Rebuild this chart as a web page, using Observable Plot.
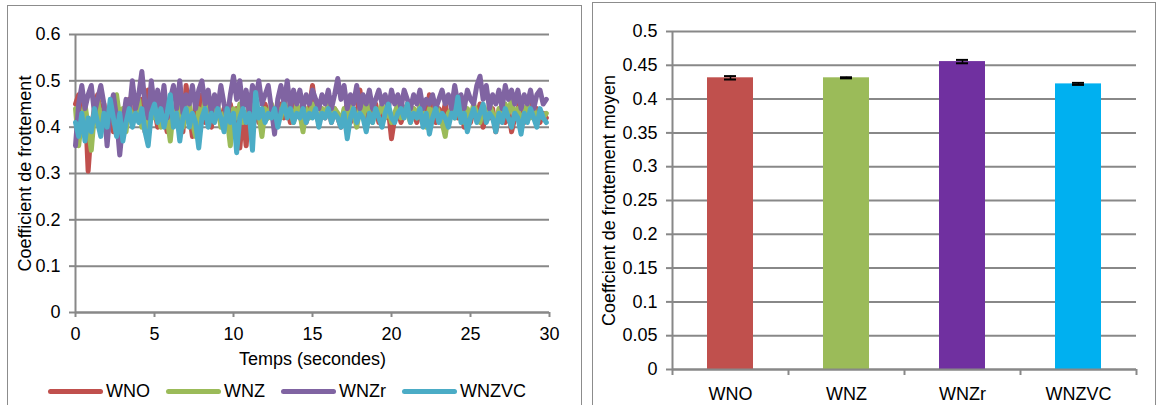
<!DOCTYPE html>
<html>
<head>
<meta charset="utf-8">
<script src="https://cdn.jsdelivr.net/npm/d3@7"></script>
<script src="https://cdn.jsdelivr.net/npm/@observablehq/plot@0.6"></script>
<style>
  html, body { margin: 0; padding: 0; background: #fff; width: 1158px; height: 405px; overflow: hidden; }
  body { position: relative; font-family: "Liberation Sans", Arial, sans-serif; }
  .frame { position: absolute; border: 1px solid #8c8c8c; box-sizing: border-box; }
  #left { position: absolute; left: 0; top: 0; }
  #right { position: absolute; left: 590px; top: 0; }
  #legend { position: absolute; left: 48px; top: 381px; display: flex; font-size: 18px; color: #000; }
  .item { display: flex; align-items: center; margin-right: 16px; }
  .sw { width: 55px; height: 5px; border-radius: 3px; margin-right: 3px; }
</style>
</head>
<body>
<div class="frame" style="left:7px;top:5px;width:575px;height:420px;"></div>
<div class="frame" style="left:592px;top:2px;width:564px;height:420px;"></div>
<div id="left"></div>
<div id="right"></div>
<div id="legend"></div>
<script>
// ---- Left chart: friction coefficient vs time ----
const seriesNames = ["WNO", "WNZ", "WNZr", "WNZVC"];
const lineColors = ["#C0504D", "#9BBB59", "#8064A2", "#4BACC6"];
const timeStep = 0.2; // seconds between samples
const xTicks = [0, 5, 10, 15, 20, 25, 30];
const yTicksLeft = [0, 0.1, 0.2, 0.3, 0.4, 0.5, 0.6];

const wno = [
  0.45, 0.47, 0.43, 0.46, 0.305, 0.40, 0.44, 0.47, 0.42, 0.45,
  0.40, 0.43, 0.39, 0.44, 0.41, 0.38, 0.43, 0.46, 0.41, 0.44,
  0.42, 0.46, 0.39, 0.48, 0.42, 0.44, 0.40, 0.45, 0.43, 0.39,
  0.44, 0.41, 0.46, 0.42, 0.39, 0.49, 0.43, 0.38, 0.45, 0.42,
  0.47, 0.41, 0.44, 0.40, 0.46, 0.43, 0.41, 0.44, 0.42, 0.45,
  0.41, 0.44, 0.355, 0.43, 0.36, 0.45, 0.42, 0.44, 0.41, 0.43,
  0.45, 0.42, 0.44, 0.41, 0.43, 0.45, 0.42, 0.44, 0.41, 0.45,
  0.43, 0.42, 0.45, 0.41, 0.44, 0.49, 0.43, 0.41, 0.44, 0.42,
  0.45, 0.41, 0.44, 0.42, 0.40, 0.43, 0.45, 0.41, 0.44, 0.42,
  0.48, 0.43, 0.41, 0.44, 0.42, 0.45, 0.41, 0.43, 0.42, 0.44,
  0.375, 0.42, 0.44, 0.41, 0.43, 0.45, 0.42, 0.44, 0.41, 0.43,
  0.45, 0.42, 0.47, 0.43, 0.41, 0.44, 0.42, 0.45, 0.41, 0.43,
  0.48, 0.42, 0.44, 0.40, 0.43, 0.41, 0.44, 0.42, 0.45, 0.40,
  0.43, 0.42, 0.44, 0.39, 0.43, 0.45, 0.41, 0.44, 0.39, 0.42,
  0.44, 0.46, 0.41, 0.43, 0.45, 0.42, 0.44, 0.41, 0.43, 0.42
];
const wnz = [
  0.44, 0.36, 0.42, 0.45, 0.40, 0.35, 0.43, 0.46, 0.41, 0.44,
  0.38, 0.43, 0.45, 0.47, 0.42, 0.44, 0.39, 0.45, 0.41, 0.43,
  0.46, 0.40, 0.43, 0.38, 0.45, 0.42, 0.44, 0.40, 0.46, 0.42,
  0.37, 0.44, 0.42, 0.46, 0.40, 0.43, 0.45, 0.41, 0.38, 0.44,
  0.42, 0.46, 0.41, 0.44, 0.42, 0.45, 0.40, 0.43, 0.42, 0.36,
  0.44, 0.42, 0.45, 0.41, 0.43, 0.44, 0.42, 0.46, 0.43, 0.38,
  0.44, 0.42, 0.45, 0.43, 0.44, 0.42, 0.46, 0.43, 0.44, 0.41,
  0.45, 0.43, 0.39, 0.44, 0.42, 0.45, 0.43, 0.41, 0.44, 0.43,
  0.45, 0.42, 0.44, 0.43, 0.41, 0.44, 0.42, 0.45, 0.43, 0.40,
  0.44, 0.42, 0.46, 0.43, 0.41, 0.44, 0.43, 0.45, 0.42, 0.44,
  0.41, 0.43, 0.45, 0.42, 0.44, 0.43, 0.41, 0.44, 0.42, 0.45,
  0.43, 0.40, 0.44, 0.42, 0.45, 0.43, 0.41, 0.38, 0.43, 0.44,
  0.42, 0.45, 0.43, 0.41, 0.44, 0.42, 0.45, 0.43, 0.41, 0.44,
  0.42, 0.45, 0.43, 0.41, 0.44, 0.42, 0.45, 0.43, 0.46, 0.42,
  0.44, 0.41, 0.43, 0.45, 0.42, 0.44, 0.41, 0.43, 0.42, 0.43
];
const wnzr = [
  0.36, 0.45, 0.49, 0.44, 0.47, 0.49, 0.43, 0.46, 0.49, 0.45,
  0.36, 0.44, 0.47, 0.42, 0.34, 0.41, 0.46, 0.43, 0.50, 0.44,
  0.47, 0.52, 0.45, 0.42, 0.50, 0.44, 0.48, 0.43, 0.49, 0.42,
  0.46, 0.49, 0.44, 0.50, 0.43, 0.47, 0.45, 0.49, 0.44, 0.48,
  0.50, 0.45, 0.48, 0.43, 0.47, 0.44, 0.49, 0.45, 0.42, 0.47,
  0.51, 0.46, 0.50, 0.44, 0.48, 0.43, 0.49, 0.46, 0.50, 0.45,
  0.47, 0.49, 0.44, 0.385, 0.46, 0.49, 0.45, 0.50, 0.44, 0.48,
  0.45, 0.48, 0.44, 0.47, 0.45, 0.48, 0.46, 0.44, 0.47, 0.45,
  0.48, 0.44, 0.47, 0.505, 0.46, 0.49, 0.44, 0.47, 0.45, 0.49,
  0.44, 0.47, 0.45, 0.48, 0.44, 0.46, 0.48, 0.45, 0.47, 0.44,
  0.48, 0.45, 0.47, 0.44, 0.48, 0.46, 0.44, 0.47, 0.45, 0.48,
  0.44, 0.46, 0.45, 0.47, 0.44, 0.46, 0.48, 0.45, 0.47, 0.44,
  0.49, 0.45, 0.47, 0.44, 0.48, 0.46, 0.45, 0.49, 0.51, 0.46,
  0.49, 0.44, 0.47, 0.45, 0.48, 0.44, 0.49, 0.46, 0.48, 0.45,
  0.48, 0.44, 0.47, 0.45, 0.48, 0.44, 0.47, 0.48, 0.45, 0.46
];
const wnzvc = [
  0.41, 0.38, 0.43, 0.37, 0.42, 0.39, 0.44, 0.41, 0.38, 0.43,
  0.40, 0.46, 0.42, 0.38, 0.43, 0.37, 0.41, 0.44, 0.40, 0.43,
  0.41, 0.44, 0.39, 0.36, 0.43, 0.45, 0.41, 0.44, 0.40, 0.43,
  0.47, 0.40, 0.43, 0.37, 0.42, 0.44, 0.40, 0.43, 0.41, 0.355,
  0.42, 0.44, 0.40, 0.43, 0.41, 0.44, 0.42, 0.39, 0.44, 0.41,
  0.43, 0.345, 0.42, 0.44, 0.41, 0.43, 0.35, 0.475, 0.42, 0.44,
  0.41, 0.43, 0.42, 0.44, 0.40, 0.43, 0.45, 0.42, 0.44, 0.41,
  0.43, 0.42, 0.44, 0.41, 0.43, 0.42, 0.44, 0.40, 0.43, 0.42,
  0.44, 0.41, 0.43, 0.42, 0.40, 0.43, 0.375, 0.42, 0.44, 0.41,
  0.43, 0.42, 0.39, 0.43, 0.41, 0.44, 0.42, 0.40, 0.43, 0.45,
  0.42, 0.41, 0.43, 0.44, 0.42, 0.45, 0.41, 0.43, 0.42, 0.44,
  0.40, 0.43, 0.385, 0.42, 0.44, 0.41, 0.43, 0.42, 0.40, 0.43,
  0.42, 0.465, 0.41, 0.43, 0.39, 0.42, 0.44, 0.41, 0.43, 0.45,
  0.41, 0.43, 0.42, 0.39, 0.43, 0.41, 0.44, 0.42, 0.40, 0.43,
  0.42, 0.385, 0.43, 0.41, 0.44, 0.42, 0.40, 0.44, 0.42, 0.41
];

// ---- Right chart: mean friction coefficient ----
const barNames = ["WNO", "WNZ", "WNZr", "WNZVC"];
const barMeans = [0.4315, 0.4315, 0.4555, 0.4225];
const barErrors = [0.0025, 0.0008, 0.0025, 0.0015];
const barColors = ["#C0504D", "#9BBB59", "#7030A0", "#00B0F0"];
const yTicksRight = [0, 0.05, 0.1, 0.15, 0.2, 0.25, 0.3, 0.35, 0.4, 0.45, 0.5];

const fmt = d => String(+d.toFixed(2));
const grid = "#888888";
const font = "'Liberation Sans', Arial, sans-serif";

const lineRows = [];
[wno, wnz, wnzr, wnzvc].forEach((vals, s) => {
  vals.forEach((v, i) => lineRows.push({series: seriesNames[s], t: i * timeStep, v}));
});

const left = Plot.plot({
  width: 590, height: 372,
  marginLeft: 75, marginRight: 41, marginTop: 34, marginBottom: 60,
  style: {fontFamily: font, fontSize: "18px", color: "#000", background: "transparent"},
  x: {domain: [0, 30]},
  y: {domain: [0, 0.6]},
  color: {domain: seriesNames, range: lineColors},
  marks: [
    Plot.gridY(yTicksLeft, {stroke: grid, strokeOpacity: 1, strokeWidth: 2}),
    Plot.ruleX([0], {stroke: grid, strokeWidth: 2}),
    Plot.ruleY([0], {stroke: grid, strokeWidth: 2}),
    Plot.axisY(yTicksLeft, {tickFormat: fmt, tickSize: 6, tickPadding: 9, stroke: grid, strokeWidth: 2, fontSize: 18,
      label: "Coefficient de frottement", labelAnchor: "center", labelArrow: "none", labelOffset: 57}),
    Plot.axisX(xTicks, {tickFormat: fmt, tickSize: 5, tickPadding: 10, stroke: grid, strokeWidth: 2, fontSize: 18,
      label: "Temps (secondes)", labelAnchor: "center", labelArrow: "none", labelOffset: 52}),
    Plot.line(lineRows, {x: "t", y: "v", z: "series", stroke: "series", strokeWidth: 5,
      strokeLinejoin: "round", strokeLinecap: "round", curve: "linear"})
  ]
});
document.getElementById("left").appendChild(left);

const barRows = barNames.map((name, i) => ({name, value: barMeans[i], err: barErrors[i]}));

const right = Plot.plot({
  width: 568, height: 405,
  marginLeft: 82, marginRight: 22, marginTop: 31, marginBottom: 36,
  style: {fontFamily: font, fontSize: "18px", color: "#000", background: "transparent"},
  x: {domain: barNames, paddingInner: 0.6, paddingOuter: 0.3},
  y: {domain: [0, 0.5]},
  color: {domain: barNames, range: barColors},
  marks: [
    Plot.gridY(yTicksRight, {stroke: grid, strokeOpacity: 1, strokeWidth: 2}),
    Plot.barY(barRows, {x: "name", y: "value", fill: "name"}),
    Plot.ruleY([0], {stroke: grid, strokeWidth: 2}),
    Plot.ruleX([barNames[0]], {x: d => d, dx: -58, stroke: grid, strokeWidth: 2}),
    Plot.ruleX(barNames, {x: d => d, dx: -58, y1: 0, y2: 0, insetTop: 6, stroke: grid, strokeWidth: 2}),
    Plot.ruleX([barNames[barNames.length - 1]], {x: d => d, dx: 58, y1: 0, y2: 0, insetTop: 6, stroke: grid, strokeWidth: 2}),
    Plot.axisY(yTicksRight, {tickFormat: fmt, tickSize: 6, tickPadding: 9, stroke: grid, strokeWidth: 2, fontSize: 18,
      label: "Coeffcient de frottement moyen", labelAnchor: "center", labelArrow: "none", labelOffset: 70}),
    Plot.axisX(barNames, {tickSize: 0, tickPadding: 18, label: null, fontSize: 18}),
    Plot.ruleX(barRows, {x: "name", y1: d => d.value - d.err, y2: d => d.value + d.err, stroke: "#000", strokeWidth: 1.5}),
    Plot.tickY(barRows, {x: "name", y: d => d.value - d.err, insetLeft: 17, insetRight: 17, stroke: "#000", strokeWidth: 2}),
    Plot.tickY(barRows, {x: "name", y: d => d.value + d.err, insetLeft: 17, insetRight: 17, stroke: "#000", strokeWidth: 2})
  ]
});
document.getElementById("right").appendChild(right);

// legend (line swatches)
const legend = document.getElementById("legend");
seriesNames.forEach((n, i) => {
  const it = document.createElement("div");
  it.className = "item";
  const sw = document.createElement("div");
  sw.className = "sw";
  sw.style.background = lineColors[i];
  const tx = document.createElement("span");
  tx.textContent = n;
  it.appendChild(sw); it.appendChild(tx);
  legend.appendChild(it);
});
</script>
</body>
</html>
